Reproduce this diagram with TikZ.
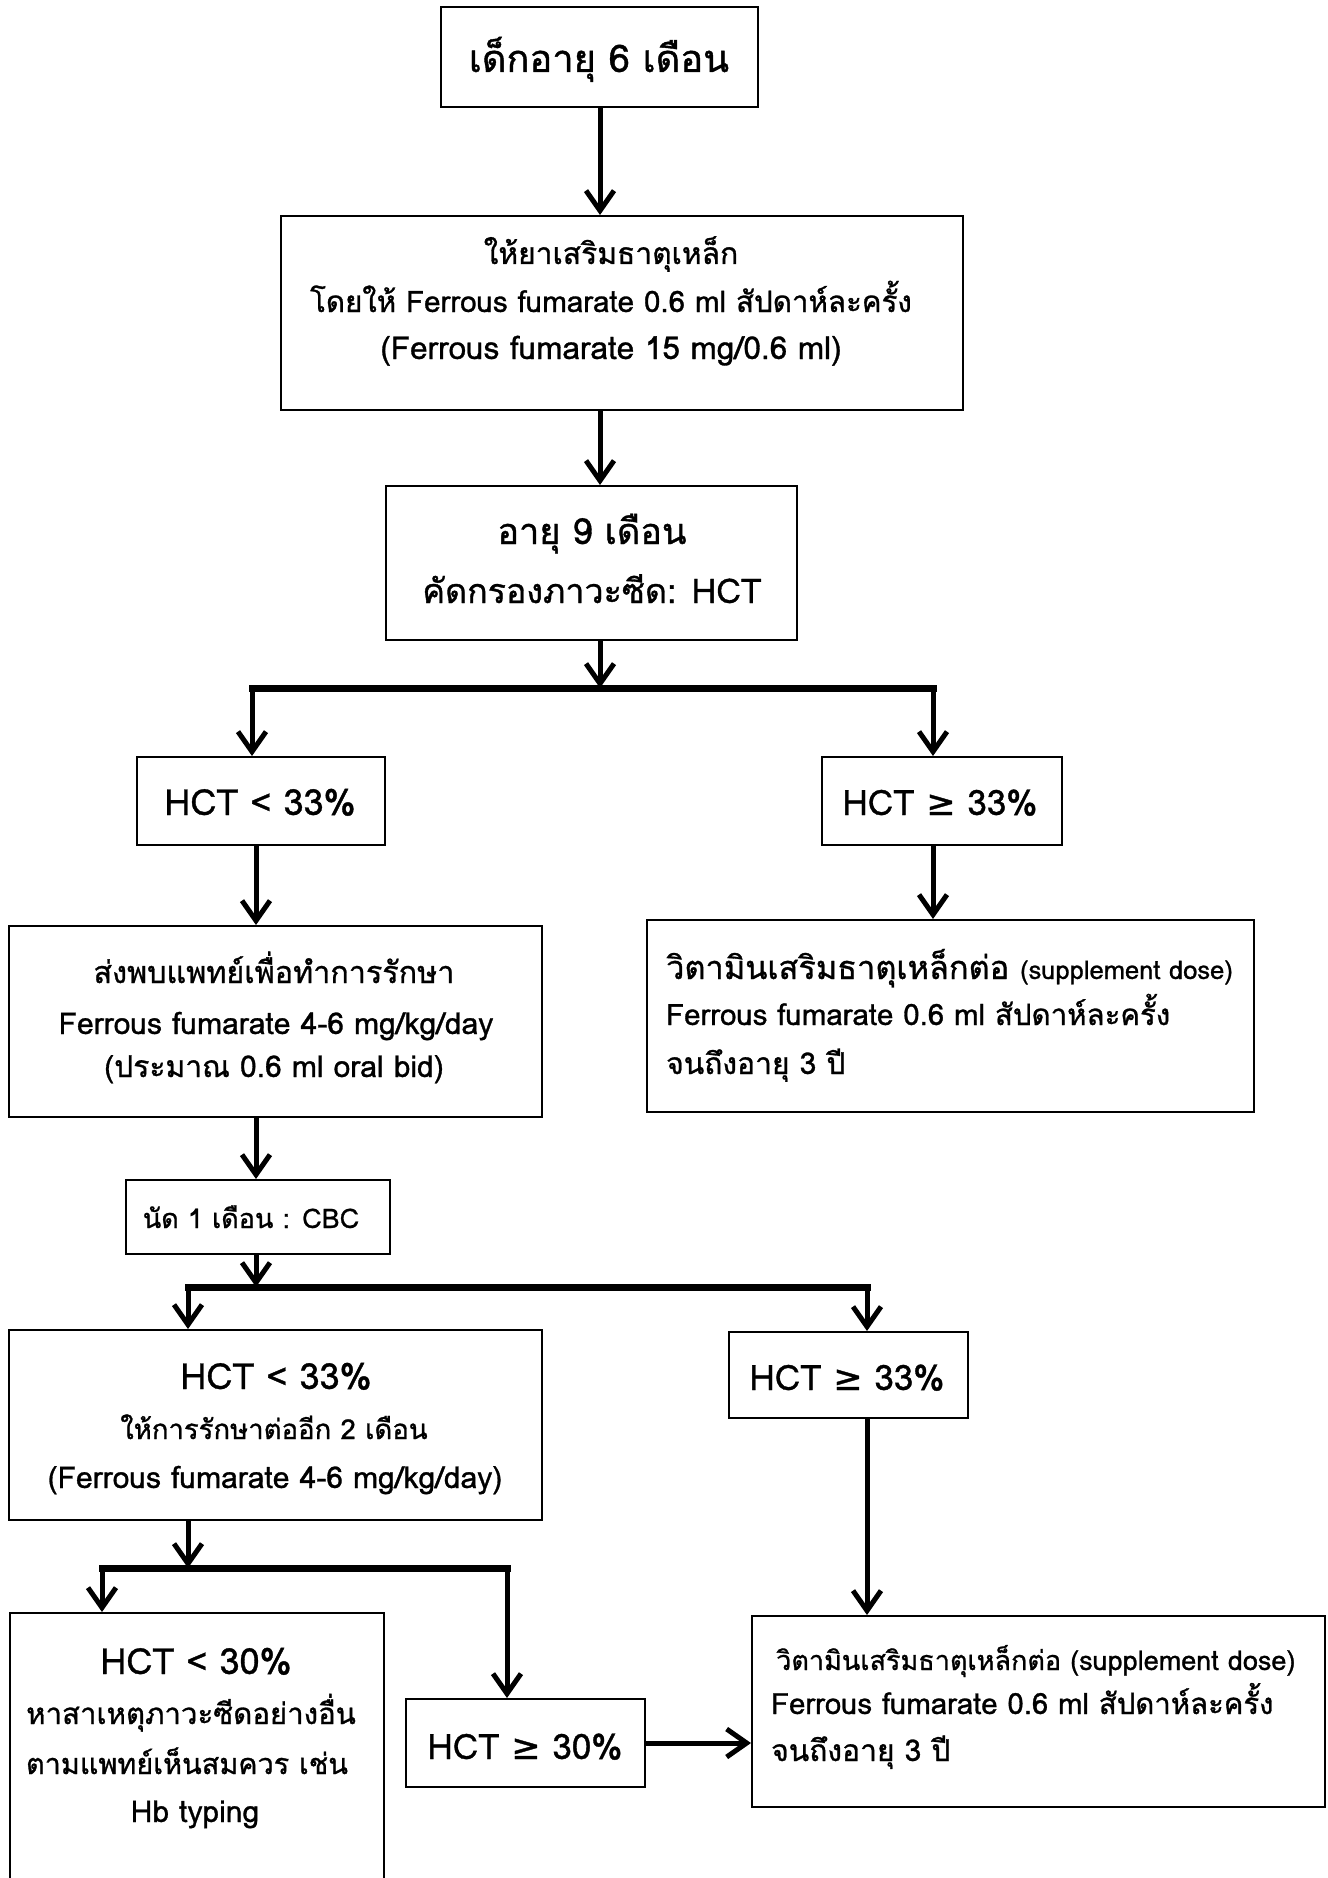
\documentclass[tikz,border=0pt]{standalone}
\usepackage{fontspec}
\setmainfont{Loma}[Script=Thai,FakeBold=1]
\newfontfamily\symf{DejaVu Sans}[FakeBold=1]
\usetikzlibrary{arrows.meta}
\newcommand{\fs}[1]{\fontsize{#1}{#1}\selectfont}
\newcommand{\geqs}{{\symf ≥}}
\begin{document}
\begin{tikzpicture}[x=1pt,y=-1pt,
  box/.style={draw,line width=2pt,inner sep=0pt},
  txt/.style={inner sep=0pt,anchor=base},
  ltxt/.style={inner sep=0pt,anchor=base west},
  arr/.style={line width=5pt,-{Straight Barb[length=20pt,width=28pt]}},
  barline/.style={line width=7pt,line cap=rect}]
\path[use as bounding box] (0,0) rectangle (1327,1878);
\clip (0,0) rectangle (1327,1878);
% boxes
\node[box,minimum width=317,minimum height=100] (b1) at (599.5,57) {};
\node[box,minimum width=682,minimum height=194] (b2) at (622,313) {};
\node[box,minimum width=411,minimum height=154] (b3) at (591.5,563) {};
\node[box,minimum width=248,minimum height=88] (b4) at (261,801) {};
\node[box,minimum width=240,minimum height=88] (b5) at (942,801) {};
\node[box,minimum width=533,minimum height=191] (b6) at (275.5,1021.5) {};
\node[box,minimum width=607,minimum height=192] (b7) at (950.5,1016) {};
\node[box,minimum width=264,minimum height=74] (b8) at (258,1217) {};
\node[box,minimum width=533,minimum height=190] (b9) at (275.5,1425) {};
\node[box,minimum width=239,minimum height=86] (b10) at (848.5,1375) {};
\node[box,minimum width=374,minimum height=337] (b11) at (197,1781.5) {};
\node[box,minimum width=573,minimum height=191] (b12) at (1038.5,1711.5) {};
\node[box,minimum width=239,minimum height=88] (b13) at (525.5,1743) {};
% texts
\node[txt] (t1) at (599,72) {\fs{38}เด็กอายุ 6 เดือน};
\node[txt] (t2a) at (611,264) {\fs{30}ให้ยาเสริมธาตุเหล็ก};
\node[txt] (t2b) at (611,312) {\fs{29.5}โดยให้ Ferrous fumarate 0.6 ml สัปดาห์ละครั้ง};
\node[txt] (t2c) at (611,359) {\fs{31.5}(Ferrous fumarate 15 mg/0.6 ml)};
\node[txt] (t3a) at (592,544) {\fs{36}อายุ 9 เดือน};
\node[txt] (t3b) at (592,603) {\fs{34}คัดกรองภาวะซีด: HCT};
\node[txt] (t4) at (260,815) {\fs{36}HCT < 33\%};
\node[txt] (t5) at (940,815) {\fs{35}HCT \geqs{} 33\%};
\node[txt] (t6a) at (274,983) {\fs{30.5}ส่งพบแพทย์เพื่อทำการรักษา};
\node[txt] (t6b) at (276,1034) {\fs{30}Ferrous fumarate 4-6 mg/kg/day};
\node[txt] (t6c) at (274,1077) {\fs{30}(ประมาณ 0.6 ml oral bid)};
\node[ltxt] (t7a) at (666,979) {\fs{32.5}วิตามินเสริมธาตุเหล็กต่อ \fs{25.5}(supplement dose)};
\node[ltxt] (t7b) at (666,1025) {\fs{29.4}Ferrous fumarate 0.6 ml สัปดาห์ละครั้ง};
\node[ltxt] (t7c) at (666,1074) {\fs{30}จนถึงอายุ 3 ปี};
\node[txt] (t8) at (251,1228) {\fs{27}นัด 1 เดือน : CBC};
\node[txt] (t9a) at (276,1389) {\fs{36}HCT < 33\%};
\node[txt] (t9b) at (274,1439) {\fs{27.5}ให้การรักษาต่ออีก 2 เดือน};
\node[txt] (t9c) at (275,1488) {\fs{30}(Ferrous fumarate 4-6 mg/kg/day)};
\node[txt] (t10) at (847,1390) {\fs{35}HCT \geqs{} 33\%};
\node[txt] (t11a) at (196,1674) {\fs{36}HCT < 30\%};
\node[txt] (t11b) at (191,1724) {\fs{29.4}หาสาเหตุภาวะซีดอย่างอื่น};
\node[txt] (t11c) at (187,1774) {\fs{28.8}ตามแพทย์เห็นสมควร เช่น};
\node[txt] (t11d) at (195,1822) {\fs{30}Hb typing};
\node[txt] (t13) at (525,1759) {\fs{35}HCT \geqs{} 30\%};
\node[ltxt] (t12a) at (776,1670) {\fs{27}วิตามินเสริมธาตุเหล็กต่อ \fs{27}(supplement dose)};
\node[ltxt] (t12b) at (771,1714) {\fs{29.3}Ferrous fumarate 0.6 ml สัปดาห์ละครั้ง};
\node[ltxt] (t12c) at (771,1761) {\fs{30}จนถึงอายุ 3 ปี};
% lanes and junctions
\coordinate (xa) at (600,0);
\coordinate (j1) at (600,688);
\coordinate (j1l) at (252,688);
\coordinate (j1r) at (933,688);
\coordinate (xb) at (256,0);
\coordinate (j2) at (256,1287);
\coordinate (j2l) at (188,1287);
\coordinate (j2r) at (867,1287);
\coordinate (j3) at (188,1568);
\coordinate (j3l) at (102,1568);
\coordinate (j3r) at (507,1568);
% connectors
\draw[arr] (b1.south -| xa) -- (b2.north -| xa);
\draw[arr] (b2.south -| xa) -- (b3.north -| xa);
\draw[arr] (b3.south -| xa) -- (j1);
\draw[barline] (j1l) -- (j1r);
\draw[arr] (j1l) -- (b4.north -| j1l);
\draw[arr] (j1r) -- (b5.north -| j1r);
\draw[arr] (b4.south -| xb) -- (b6.north -| xb);
\draw[arr] (b5.south -| j1r) -- (b7.north -| j1r);
\draw[arr] (b6.south -| xb) -- (b8.north -| xb);
\draw[arr] (b8.south -| xb) -- (j2);
\draw[barline] (j2l) -- (j2r);
\draw[arr] (j2l) -- (b9.north -| j2l);
\draw[arr] (j2r) -- (b10.north -| j2r);
\draw[arr] (b10.south -| j2r) -- (b12.north -| j2r);
\draw[arr] (b9.south -| j3) -- (j3);
\draw[barline] (j3l) -- (j3r);
\draw[arr] (j3l) -- (b11.north -| j3l);
\draw[arr] (j3r) -- (b13.north -| j3r);
\draw[arr] (b13.east) -- (b12.west |- b13.east);
\end{tikzpicture}
\end{document}
